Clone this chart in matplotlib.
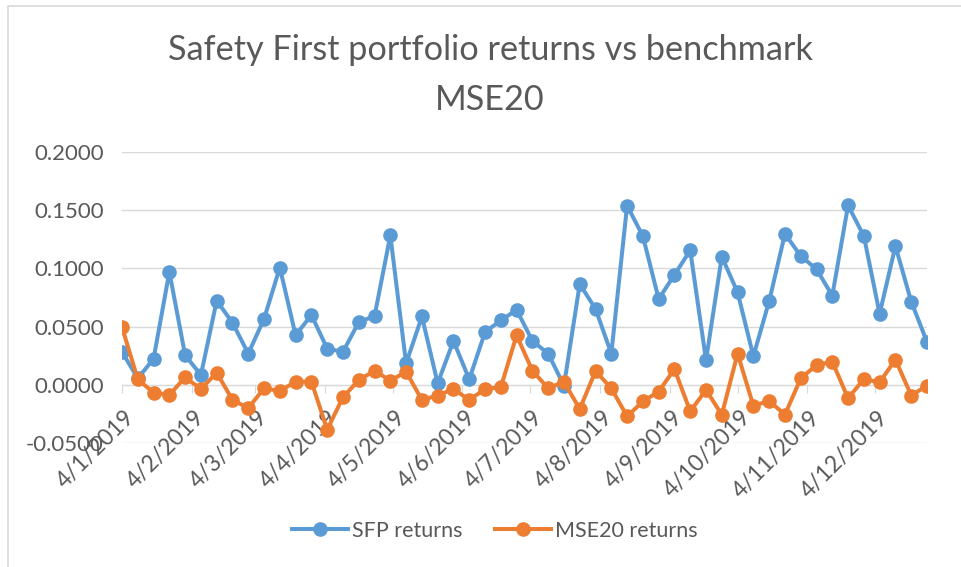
import matplotlib
matplotlib.use("Agg")
import matplotlib.pyplot as plt
import pandas as pd
from matplotlib.patches import Rectangle
from matplotlib.transforms import ScaledTranslation

# weekly returns, 4 Jan 2019 .. 27 Dec 2019
dates = pd.date_range("2019-01-04", periods=52, freq="7D")
sfp_returns = [0.0283, 0.0055, 0.0223, 0.0970, 0.0254, 0.0084, 0.0723, 0.0533, 0.0268, 0.0567,
               0.1007, 0.0425, 0.0600, 0.0311, 0.0283, 0.0539, 0.0590, 0.1283, 0.0183, 0.0587,
               0.0013, 0.0377, 0.0047, 0.0453, 0.0553, 0.0644, 0.0377, 0.0268, -0.0007, 0.0865,
               0.0652, 0.0268, 0.1539, 0.1277, 0.0737, 0.0945, 0.1155, 0.0211, 0.1101, 0.0794,
               0.0246, 0.0718, 0.1297, 0.1107, 0.0993, 0.0766, 0.1541, 0.1277, 0.0610, 0.1192,
               0.0715, 0.0368]
mse20_returns = [0.0496, 0.0047, -0.0067, -0.0087, 0.0064, -0.0036, 0.0104, -0.0130, -0.0200, -0.0030,
                 -0.0053, 0.0027, 0.0027, -0.0385, -0.0107, 0.0041, 0.0121, 0.0036, 0.0112, -0.0130,
                 -0.0092, -0.0036, -0.0130, -0.0036, -0.0021, 0.0425, 0.0121, -0.0030, 0.0027, -0.0209,
                 0.0118, -0.0030, -0.0271, -0.0143, -0.0058, 0.0135, -0.0228, -0.0044, -0.0257, 0.0268,
                 -0.0180, -0.0138, -0.0257, 0.0055, 0.0169, 0.0198, -0.0115, 0.0049, 0.0021, 0.0217,
                 -0.0092, -0.0007]
tick_dates = pd.to_datetime(["2019-%02d-04" % m for m in range(1, 13)])
tick_labels = ["4/%d/2019" % m for m in range(1, 13)]
y_ticks = [-0.05, 0.0, 0.05, 0.10, 0.15, 0.20]

plt.rcParams['font.family'] = ['Lato', 'DejaVu Sans']
text_col = '#595959'
grid_col = '#D9D9D9'

fig = plt.figure(figsize=(9.61, 5.67), dpi=100)
fig.patches.append(Rectangle((8 / 961, -0.1), 1.2, 1 - 6 / 567 + 0.1, transform=fig.transFigure,
                             fill=False, edgecolor=grid_col, linewidth=1.2))

ax = fig.add_axes([122 / 961, 1 - 443 / 567, (927 - 122) / 961, (443 - 152) / 567])
ax.plot(dates, sfp_returns, color='#5B9BD5', lw=2.9, marker='o', ms=9.5, label='SFP returns')
ax.plot(dates, mse20_returns, color='#ED7D31', lw=2.9, marker='o', ms=9.5, label='MSE20 returns')

ax.set_xlim(dates[0], dates[-1])
ax.set_ylim(-0.05, 0.2)
ax.set_yticks(y_ticks)
ax.set_yticklabels(["%.4f" % v for v in y_ticks])
ax.yaxis.grid(True, color=grid_col, lw=1)
ax.set_axisbelow(True)
for s in ['top', 'right', 'left']:
    ax.spines[s].set_visible(False)
ax.spines['bottom'].set_position(('data', 0))
ax.spines['bottom'].set_color(grid_col)
ax.spines['bottom'].set_zorder(0.5)
ax.tick_params(axis='y', length=0, pad=13, labelsize=16, labelcolor=text_col)
ax.tick_params(axis='x', length=6, color=grid_col, labelsize=16.5, labelcolor=text_col, pad=4)
ax.set_xticks(tick_dates)
ax.set_xticklabels(tick_labels, rotation=45, ha='right', va='top', rotation_mode='anchor')
shift = ScaledTranslation(2 / 100, -8 / 100, fig.dpi_scale_trans)
for lbl in ax.get_xticklabels():
    lbl.set_transform(lbl.get_transform() + shift)

fig.text(490 / 961, 1 - 50 / 567, "Safety First portfolio returns vs benchmark", ha='center', va='center',
         fontsize=24.7, color=text_col)
fig.text(490 / 961, 1 - 100 / 567, "MSE20", ha='center', va='center', fontsize=24.7, color=text_col)

fig.legend(loc='center', bbox_to_anchor=(495 / 961, 1 - 531 / 567), ncol=2, frameon=False,
           fontsize=15.5, labelcolor=text_col, handlelength=2.6, handletextpad=0.2, columnspacing=1.5)

fig.savefig("out.png", dpi=100)
